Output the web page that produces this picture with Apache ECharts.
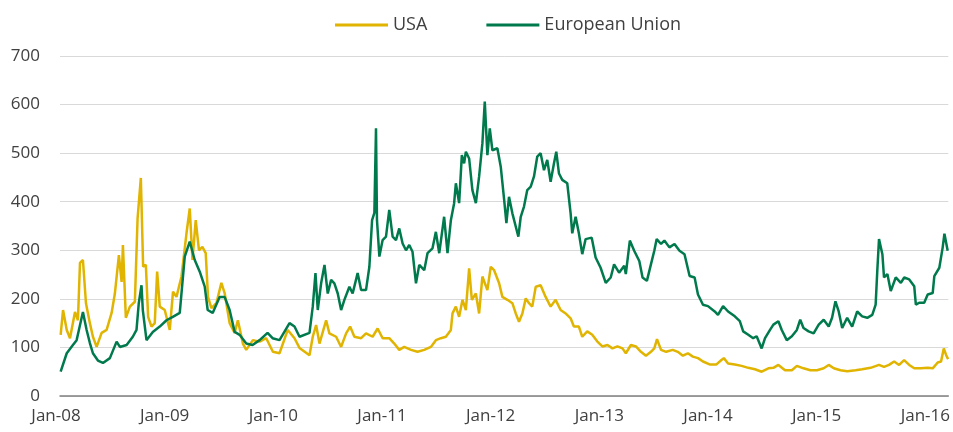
<!DOCTYPE html>
<html>
<head>
<meta charset="utf-8">
<title>USA vs European Union</title>
<script src="https://cdn.jsdelivr.net/npm/echarts@6/dist/echarts.min.js"></script>
<style>
  html, body { margin: 0; padding: 0; background: #fff; }
  #chart { width: 953px; height: 432px; }
</style>
</head>
<body>
<div id="chart"></div>
<script>
// x values are fractional years (2008.5 = mid 2008)
var xTickLabels = ['Jan-08', 'Jan-09', 'Jan-10', 'Jan-11', 'Jan-12', 'Jan-13', 'Jan-14', 'Jan-15', 'Jan-16'];
var seriesNames = ['USA', 'European Union'];

var usaData = [
  [2008.006,126],[2008.028,177],[2008.062,136],[2008.092,119],[2008.138,173],[2008.165,156],[2008.184,274],[2008.211,280],
  [2008.239,191],[2008.275,150],[2008.303,122],[2008.337,101],[2008.383,130],[2008.429,136],[2008.475,171],[2008.505,211],
  [2008.542,290],[2008.567,235],[2008.579,311],[2008.606,161],[2008.643,184],[2008.689,194],[2008.714,366],[2008.744,449],
  [2008.765,266],[2008.790,270],[2008.811,163],[2008.842,143],[2008.872,150],[2008.894,256],[2008.918,184],[2008.964,177],
  [2009.010,136],[2009.040,215],[2009.072,204],[2009.118,246],[2009.164,335],[2009.194,386],[2009.219,280],[2009.249,362],
  [2009.279,300],[2009.310,307],[2009.341,294],[2009.362,204],[2009.393,181],[2009.439,191],[2009.485,233],[2009.515,212],
  [2009.561,150],[2009.607,130],[2009.637,156],[2009.683,108],[2009.714,95],[2009.775,115],[2009.837,112],[2009.898,119],
  [2009.959,91],[2010.020,88],[2010.096,136],[2010.158,119],[2010.204,99],[2010.296,84],[2010.326,122],[2010.357,146],
  [2010.388,108],[2010.449,156],[2010.479,129],[2010.541,122],[2010.587,101],[2010.633,129],[2010.670,143],[2010.709,122],
  [2010.771,119],[2010.816,129],[2010.877,122],[2010.923,139],[2010.969,119],[2011.030,119],[2011.076,108],[2011.122,95],
  [2011.168,101],[2011.230,95],[2011.290,91],[2011.352,95],[2011.413,101],[2011.459,115],[2011.505,119],[2011.551,122],
  [2011.597,136],[2011.612,170],[2011.643,184],[2011.673,163],[2011.704,198],[2011.735,177],[2011.765,263],[2011.790,198],
  [2011.827,211],[2011.857,170],[2011.887,246],[2011.933,218],[2011.964,266],[2011.995,259],[2012.041,232],[2012.071,204],
  [2012.117,198],[2012.163,191],[2012.194,170],[2012.224,153],[2012.255,170],[2012.286,201],[2012.316,191],[2012.346,184],
  [2012.378,225],[2012.423,228],[2012.469,204],[2012.515,184],[2012.561,198],[2012.607,177],[2012.653,170],[2012.699,160],
  [2012.729,143],[2012.775,143],[2012.806,122],[2012.852,133],[2012.898,126],[2012.945,112],[2012.991,102],[2013.038,105],
  [2013.084,98],[2013.130,102],[2013.176,98],[2013.207,88],[2013.254,105],[2013.300,102],[2013.346,91],[2013.392,83],
  [2013.438,91],[2013.469,98],[2013.494,117],[2013.531,95],[2013.578,91],[2013.639,95],[2013.685,91],[2013.732,83],
  [2013.778,88],[2013.824,81],[2013.871,78],[2013.917,71],[2013.978,65],[2014.041,65],[2014.087,74],[2014.109,78],
  [2014.148,67],[2014.210,65],[2014.272,62],[2014.334,58],[2014.395,55],[2014.457,50],[2014.519,57],[2014.565,58],
  [2014.611,64],[2014.672,53],[2014.735,53],[2014.781,62],[2014.842,57],[2014.905,53],[2014.966,53],[2015.028,57],
  [2015.074,64],[2015.121,57],[2015.182,53],[2015.244,51],[2015.321,53],[2015.382,55],[2015.459,58],[2015.537,64],
  [2015.583,60],[2015.629,64],[2015.676,71],[2015.722,64],[2015.768,74],[2015.815,64],[2015.861,57],[2015.923,57],
  [2015.985,58],[2016.031,57],[2016.077,69],[2016.108,71],[2016.133,98],[2016.155,84],[2016.173,76]
];

var euData = [
  [2008.006,50],[2008.062,88],[2008.119,105],[2008.153,115],[2008.174,136],[2008.211,173],[2008.245,136],[2008.275,109],
  [2008.303,88],[2008.349,73],[2008.395,68],[2008.459,78],[2008.521,112],[2008.551,101],[2008.613,105],[2008.670,122],
  [2008.704,136],[2008.725,191],[2008.750,228],[2008.762,177],[2008.796,115],[2008.854,132],[2008.918,143],[2008.980,156],
  [2009.038,163],[2009.102,171],[2009.148,287],[2009.194,318],[2009.240,280],[2009.286,256],[2009.332,225],[2009.359,177],
  [2009.405,171],[2009.469,204],[2009.515,204],[2009.561,177],[2009.607,132],[2009.653,126],[2009.714,108],[2009.772,105],
  [2009.837,115],[2009.910,130],[2009.956,119],[2010.020,115],[2010.112,150],[2010.158,143],[2010.204,122],[2010.296,130],
  [2010.326,184],[2010.351,253],[2010.372,177],[2010.403,232],[2010.434,270],[2010.464,211],[2010.495,239],[2010.525,232],
  [2010.556,211],[2010.587,177],[2010.617,198],[2010.663,225],[2010.693,211],[2010.739,253],[2010.771,218],[2010.816,218],
  [2010.847,266],[2010.872,362],[2010.893,377],[2010.908,551],[2010.917,362],[2010.939,287],[2010.969,321],[2011.000,328],
  [2011.030,383],[2011.061,328],[2011.092,321],[2011.122,345],[2011.153,314],[2011.184,300],[2011.214,311],[2011.244,297],
  [2011.276,232],[2011.306,270],[2011.352,259],[2011.382,294],[2011.428,304],[2011.459,338],[2011.490,294],[2011.535,369],
  [2011.566,294],[2011.597,362],[2011.627,397],[2011.643,438],[2011.673,397],[2011.698,496],[2011.719,479],[2011.735,503],
  [2011.765,489],[2011.795,424],[2011.827,397],[2011.857,452],[2011.887,520],[2011.909,606],[2011.933,496],[2011.955,551],
  [2011.979,506],[2012.025,510],[2012.056,472],[2012.086,407],[2012.108,356],[2012.132,410],[2012.163,376],[2012.194,349],
  [2012.218,328],[2012.240,369],[2012.270,390],[2012.300,424],[2012.332,431],[2012.362,452],[2012.392,493],[2012.423,500],
  [2012.454,465],[2012.484,486],[2012.515,441],[2012.546,479],[2012.567,503],[2012.592,458],[2012.622,445],[2012.668,438],
  [2012.699,376],[2012.714,335],[2012.745,369],[2012.775,335],[2012.806,292],[2012.837,323],[2012.893,326],[2012.929,285],
  [2012.975,264],[2013.022,233],[2013.068,244],[2013.099,271],[2013.145,254],[2013.192,268],[2013.207,251],[2013.244,320],
  [2013.284,299],[2013.331,278],[2013.361,244],[2013.401,237],[2013.438,271],[2013.469,299],[2013.491,323],[2013.531,313],
  [2013.562,320],[2013.608,306],[2013.655,313],[2013.701,299],[2013.747,292],[2013.794,247],[2013.840,244],[2013.871,209],
  [2013.917,188],[2013.963,185],[2014.025,174],[2014.055,167],[2014.102,185],[2014.148,174],[2014.210,164],[2014.256,154],
  [2014.287,133],[2014.334,126],[2014.379,119],[2014.411,123],[2014.457,98],[2014.488,119],[2014.534,136],[2014.565,147],
  [2014.611,154],[2014.642,136],[2014.688,115],[2014.735,123],[2014.781,136],[2014.812,157],[2014.842,140],[2014.889,133],
  [2014.935,129],[2014.982,147],[2015.028,157],[2015.074,143],[2015.105,161],[2015.136,195],[2015.166,174],[2015.198,140],
  [2015.244,161],[2015.290,143],[2015.336,174],[2015.382,164],[2015.429,161],[2015.475,167],[2015.506,188],[2015.521,257],
  [2015.537,323],[2015.568,292],[2015.583,244],[2015.614,251],[2015.645,216],[2015.691,244],[2015.738,233],[2015.769,244],
  [2015.815,240],[2015.861,226],[2015.876,188],[2015.907,192],[2015.953,192],[2015.985,209],[2016.031,212],[2016.046,247],
  [2016.092,264],[2016.123,306],[2016.139,334],[2016.169,299]
];

var chart = echarts.init(document.getElementById('chart'));
var font = '"Open Sans", "Liberation Sans", sans-serif';

var option = {
  animation: false,
  backgroundColor: '#fff',
  color: ['#E0B400', '#007A4D'],
  legend: {
    left: 330,
    top: 11,
    icon: 'rect',
    itemWidth: 53,
    itemHeight: 3,
    itemGap: 59,
    textStyle: { fontFamily: font, fontSize: 18, color: '#404040' },
    data: seriesNames
  },
  grid: {
    left: 60,
    right: 3,
    top: 56,
    bottom: 36,
    containLabel: false
  },
  xAxis: {
    type: 'value',
    min: 2008,
    max: 2016.175,
    interval: 1,
    axisLine: { show: true, lineStyle: { color: '#808080', width: 1.5 } },
    axisTick: { show: false },
    splitLine: { show: false },
    axisLabel: {
      margin: 12,
      fontFamily: font,
      fontSize: 17,
      color: '#404040',
      padding: [0, 8, 0, 0],
      showMaxLabel: false,
      formatter: function (v) {
        if (Math.abs(v - Math.round(v)) > 1e-6) return '';
        return xTickLabels[Math.round(v) - 2008] || '';
      }
    }
  },
  yAxis: {
    type: 'value',
    min: 0,
    max: 700,
    interval: 100,
    axisLine: { show: false },
    axisTick: { show: false },
    splitLine: { lineStyle: { color: '#d9d9d9', width: 1 } },
    axisLabel: { margin: 20, fontFamily: font, fontSize: 17, color: '#404040' }
  },
  series: [
    {
      name: seriesNames[0],
      type: 'line',
      data: usaData,
      showSymbol: false,
      lineStyle: { width: 2.5 },
      z: 2
    },
    {
      name: seriesNames[1],
      type: 'line',
      data: euData,
      showSymbol: false,
      lineStyle: { width: 2.5 },
      z: 3
    }
  ]
};

chart.setOption(option);
</script>
</body>
</html>
